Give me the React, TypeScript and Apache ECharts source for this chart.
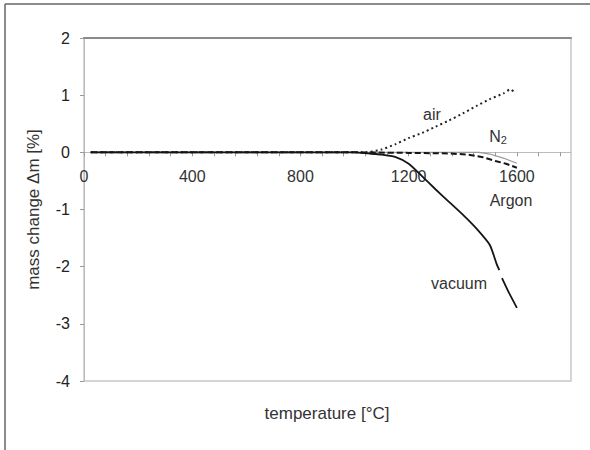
import React, { useEffect, useRef } from "react";
import * as echarts from "echarts";

// ---- data (temperature in °C, mass change in %) ----
const airT = [25, 400, 800, 1000, 1040, 1100, 1150, 1200, 1250, 1300, 1350, 1400, 1450, 1500, 1550, 1575, 1590];
const airM = [0, 0, 0, 0, 0, 0.05, 0.14, 0.25, 0.34, 0.45, 0.56, 0.68, 0.81, 0.93, 1.03, 1.1, 1.06];

const n2T = [25, 400, 800, 1000, 1200, 1400, 1460, 1500, 1550, 1600];
const n2M = [0, 0, 0, 0, 0, 0, 0, -0.03, -0.1, -0.19];

const argonT = [25, 400, 800, 1000, 1200, 1350, 1420, 1470, 1520, 1560, 1600];
const argonM = [0, 0, 0, 0, -0.01, -0.02, -0.04, -0.08, -0.15, -0.2, -0.27];

const vacuumT = [25, 400, 800, 1000, 1050, 1100, 1150, 1200, 1250, 1300, 1350, 1400, 1450, 1500, 1525, 1535, 1540, 1545, 1570, 1600];
const vacuumM: (number | null)[] = [0, 0, 0, 0, -0.02, -0.04, -0.08, -0.2, -0.42, -0.65, -0.87, -1.09, -1.33, -1.62, -1.95, -2.06, null, -2.2, -2.45, -2.72];

const xTickLabels = [0, 400, 800, 1200, 1600];
const yTicks = [-4, -3, -2, -1, 0, 1, 2];

const zip = (t: number[], m: (number | null)[]) =>
  t.map((x, i) => (m[i] === null ? [x, "-"] : [x, m[i]]));

const FONT = "Liberation Sans, Arial, sans-serif";

const GRID = { left: 84, right: 19, top: 38, bottom: 69 };
const H = 450;

export default function App() {
  const ref = useRef<HTMLDivElement>(null);
  useEffect(() => {
    document.body.style.margin = "0";
    if (!ref.current) return;
    const chart = echarts.init(ref.current, undefined, { renderer: "svg" });
    const yMin = yTicks[0];
    const yMax = yTicks[yTicks.length - 1];
    const plotH = H - GRID.top - GRID.bottom;
    // move the x axis up so that it crosses the y axis at 0
    const zeroOffset = -(plotH * (0 - yMin)) / (yMax - yMin);
    chart.setOption({
      animation: false,
      backgroundColor: "#ffffff",
      textStyle: { fontFamily: FONT },
      grid: {
        ...GRID,
        show: true,
        borderColor: "#c8c8c8",
        borderWidth: 1.5,
      },
      xAxis: [
        {
          type: "value",
          min: 0,
          max: 1800,
          interval: 80,
          offset: zeroOffset,
          axisLine: { show: true, onZero: false, lineStyle: { color: "#bbbbbb", width: 1 } },
          axisTick: { show: true, length: 4, lineStyle: { color: "#999999" } },
          axisLabel: {
            fontSize: 16,
            color: "#333333",
            margin: 16,
            showMaxLabel: false,
            formatter: (v: number) => (xTickLabels.includes(v) ? String(v) : ""),
          },
          splitLine: { show: false },
        },
        {
          type: "value",
          position: "top",
          min: 0,
          max: 1800,
          axisLine: { show: true, onZero: false, lineStyle: { color: "#8a8a8a", width: 2 } },
          axisTick: { show: false },
          axisLabel: { show: false },
          splitLine: { show: false },
        },
      ],
      yAxis: {
        type: "value",
        min: yMin,
        max: yMax,
        interval: 1,
        axisLine: { show: true, onZero: false, lineStyle: { color: "#bbbbbb", width: 1 } },
        axisTick: { show: true, length: 4, lineStyle: { color: "#999999" } },
        axisLabel: { fontSize: 16, color: "#222222", margin: 14 },
        splitLine: { show: false },
        name: "mass change Δm [%]",
        nameLocation: "middle",
        nameGap: 42,
        nameRotate: 90,
        nameTextStyle: { fontSize: 17, color: "#333333" },
      },
      series: [
        {
          name: "N2",
          type: "line",
          data: zip(n2T, n2M),
          showSymbol: false,
          lineStyle: { color: "#999999", width: 1.2, type: "solid" },
          z: 2,
        },
        {
          name: "Argon",
          type: "line",
          data: zip(argonT, argonM),
          showSymbol: false,
          lineStyle: { color: "#151515", width: 2, type: [6, 3] },
          z: 3,
        },
        {
          name: "air",
          type: "line",
          data: zip(airT, airM),
          showSymbol: false,
          smooth: 0.2,
          lineStyle: { color: "#222222", width: 2, type: [2, 3] },
          z: 4,
        },
        {
          name: "vacuum",
          type: "line",
          data: zip(vacuumT, vacuumM),
          showSymbol: false,
          smooth: 0.2,
          connectNulls: false,
          lineStyle: { color: "#151515", width: 1.8, type: "solid" },
          z: 5,
        },
      ],
      graphic: [
        { type: "line", shape: { x1: 5, y1: 4, x2: 590, y2: 4 }, style: { stroke: "#666666", lineWidth: 1.5 } },
        { type: "line", shape: { x1: 5, y1: 4, x2: 5, y2: 450 }, style: { stroke: "#666666", lineWidth: 1.5 } },
        {
          type: "text",
          x: 327,
          y: 413,
          style: { text: "temperature [°C]", fontSize: 17, fill: "#333333", fontFamily: FONT, align: "center", verticalAlign: "middle" },
        },
        {
          type: "text",
          x: 432,
          y: 114,
          style: { text: "air", fontSize: 16, fill: "#333333", fontFamily: FONT, align: "center", verticalAlign: "middle" },
        },
        {
          type: "text",
          x: 498,
          y: 136,
          style: {
            text: "N{sub|2}",
            fontSize: 16,
            fill: "#333333",
            fontFamily: FONT,
            align: "center",
            verticalAlign: "middle",
            rich: { sub: { fontSize: 11, fill: "#333333", fontFamily: FONT, padding: [8, 0, 0, 0] } },
          },
        },
        {
          type: "text",
          x: 511,
          y: 200,
          style: { text: "Argon", fontSize: 16, fill: "#333333", fontFamily: FONT, align: "center", verticalAlign: "middle" },
        },
        {
          type: "text",
          x: 459,
          y: 283,
          style: { text: "vacuum", fontSize: 16, fill: "#333333", fontFamily: FONT, align: "center", verticalAlign: "middle" },
        },
      ],
    });
    return () => chart.dispose();
  }, []);
  return <div ref={ref} style={{ width: 590, height: 450 }} />;
}
